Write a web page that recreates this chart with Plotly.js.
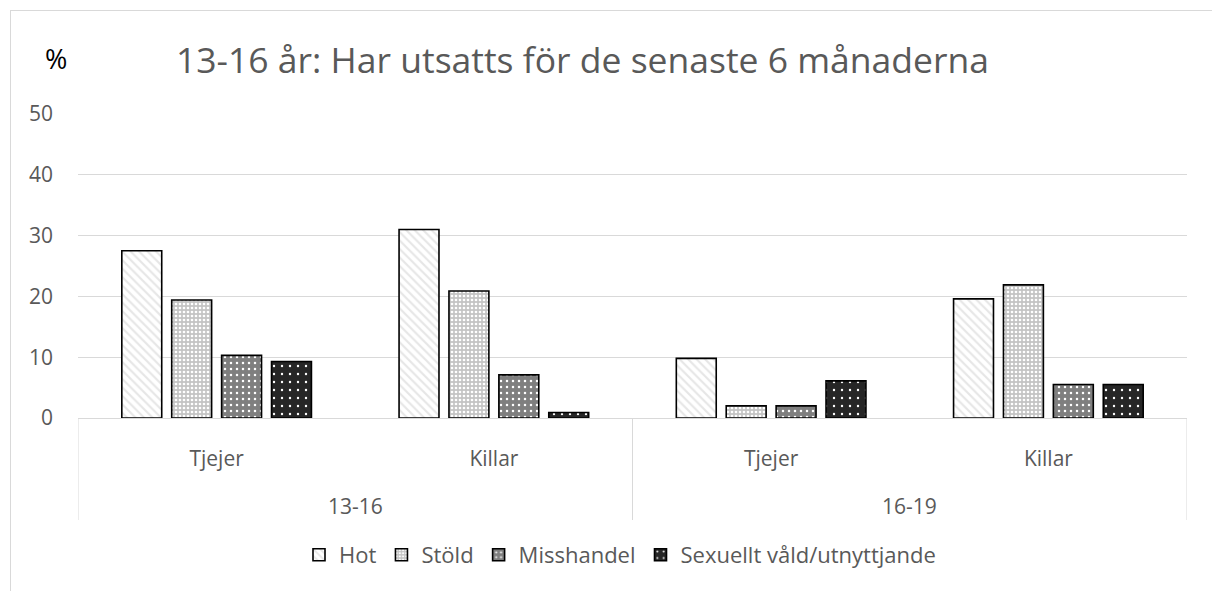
<!DOCTYPE html>
<html>
<head>
<meta charset="utf-8">
<script src="https://cdn.plot.ly/plotly-3.0.1.min.js"></script>
<style>
  html, body { margin: 0; padding: 0; background: #fff; }
  #wrap { position: relative; width: 1212px; height: 591px; overflow: hidden; }
  #chart { width: 1212px; height: 591px; }
  #frame { position: absolute; left: 10px; top: 10px; width: 1220px; height: 600px;
           border-top: 1px solid #d9d9d9; border-left: 1px solid #d9d9d9; pointer-events: none; }
</style>
</head>
<body>
<div id="wrap">
  <div id="chart"></div>
  <div id="frame"></div>
</div>
<script>
// Data
const ageGroups = ["13-16", "13-16", "16-19", "16-19"];
const genders = ["Tjejer", "Killar", "Tjejer", "Killar"];
const outerLabels = ["13-16", "16-19"];
const hot = [27.5, 31.0, 9.8, 19.6];
const stold = [19.4, 20.9, 2.0, 21.9];
const misshandel = [10.3, 7.1, 2.0, 5.5];
const sexuellt = [9.3, 0.9, 6.1, 5.5];
const seriesNames = ["Hot", "Stöld", "Misshandel", "Sexuellt våld/utnyttjande"];
const yTicks = [0, 10, 20, 30, 40, 50];

const FONT = "Open Sans, Noto Sans, sans-serif";
const GRAY = "#595959";
const LINE = "#d9d9d9";
const xKeys = ageGroups.map((a, i) => a + " " + genders[i]);

const styles = [
  {shape: "\\", bgcolor: "#ffffff", fgcolor: "#e6e6e6", size: 6, solidity: 0.35},
  {shape: ".", bgcolor: "#c4c4c4", fgcolor: "#ffffff", size: 4, solidity: 0.35},
  {shape: ".", bgcolor: "#7f7f7f", fgcolor: "#ffffff", size: 6, solidity: 0.14},
  {shape: ".", bgcolor: "#262626", fgcolor: "#ffffff", size: 8, solidity: 0.07}
];
const values = [hot, stold, misshandel, sexuellt];

const traces = values.map((v, i) => ({
  type: "bar",
  name: seriesNames[i],
  x: xKeys,
  y: v,
  marker: {
    color: styles[i].bgcolor,
    line: {color: "#000000", width: 1.6},
    pattern: {
      shape: styles[i].shape,
      fillmode: "replace",
      bgcolor: styles[i].bgcolor,
      fgcolor: styles[i].fgcolor,
      size: styles[i].size,
      solidity: styles[i].solidity
    }
  },
  hoverinfo: "y"
}));

// group boundaries in category index units
const groupStarts = [];
const groupCenters = [];
ageGroups.forEach((a, i) => {
  if (i === 0 || ageGroups[i - 1] !== a) groupStarts.push(i);
});
groupStarts.forEach((s, k) => {
  const e = k + 1 < groupStarts.length ? groupStarts[k + 1] : ageGroups.length;
  groupCenters.push((s + e - 1) / 2);
});
const dividerPos = groupStarts.map(s => s - 0.5).concat([ageGroups.length - 0.5]);

const shapes = dividerPos.map(p => ({
  type: "line", xref: "x", yref: "paper",
  x0: p, x1: p, y0: 0, y1: -102 / 304,
  line: {color: LINE, width: 1}
}));

const annotations = outerLabels.map((lab, k) => ({
  text: lab, xref: "x", yref: "paper",
  x: groupCenters[k], y: -88 / 304,
  xanchor: "center", yanchor: "middle", showarrow: false,
  font: {family: FONT, size: 21, color: GRAY}
}));
annotations.push({
  text: "%",
  xref: "paper", yref: "paper",
  x: (56 - 78) / 1109, y: (418 - 59) / 304,
  xanchor: "center", yanchor: "middle",
  showarrow: false,
  font: {family: FONT, size: 27, color: "#000000"}
});

const layout = {
  width: 1212,
  height: 591,
  margin: {l: 78, r: 25, t: 114, b: 173},
  paper_bgcolor: "#ffffff",
  plot_bgcolor: "#ffffff",
  font: {family: FONT, color: GRAY, size: 21},
  barmode: "group",
  bargap: 0.28,
  bargroupgap: 0.2,
  title: {
    text: "13-16 år: Har utsatts för de senaste 6 månaderna",
    font: {family: FONT, size: 35.5, color: GRAY},
    x: 0.4806, xref: "container", xanchor: "center",
    y: 1 - 61/591, yref: "container", yanchor: "middle"
  },
  xaxis: {
    type: "category",
    range: [-0.5, 3.5],
    tickvals: xKeys,
    ticktext: genders,
    showline: true,
    linecolor: LINE,
    linewidth: 1,
    ticks: "",
    tickfont: {family: FONT, size: 21, color: GRAY},
    ticklabelstandoff: 22,
    showgrid: false
  },
  yaxis: {
    range: [0, 50],
    tickvals: yTicks,
    ticktext: yTicks.map(String),
    showgrid: true,
    gridcolor: LINE,
    gridwidth: 1,
    zeroline: false,
    showline: false,
    ticks: "",
    ticklabelstandoff: 24,
    tickfont: {family: FONT, size: 21, color: GRAY}
  },
  legend: {
    orientation: "h",
    xref: "container", yref: "container",
    x: 620/1212, xanchor: "center",
    y: 1 - 555/591, yanchor: "middle",
    font: {family: FONT, size: 22, color: GRAY},
    itemwidth: 30,
    traceorder: "normal"
  },
  shapes: shapes,
  annotations: annotations
};

Plotly.newPlot("chart", traces, layout, {displayModeBar: false, staticPlot: true});
</script>
</body>
</html>
